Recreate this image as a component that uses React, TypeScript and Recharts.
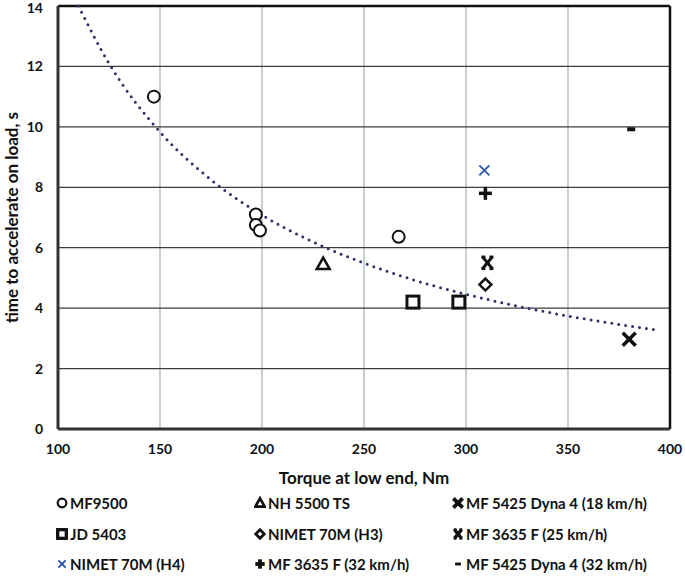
import React from "react";
import {
  CartesianGrid,
  ComposedChart,
  Legend,
  Line,
  ReferenceLine,
  Scatter,
  XAxis,
  YAxis,
} from "recharts";

type Pt = { x: number; y: number };
type Kind = "circle" | "triangle" | "cross" | "square" | "diamond" | "star" | "xblue" | "plus" | "dash";

const xTicks = [100, 150, 200, 250, 300, 350, 400];
const yTicks = [0, 2, 4, 6, 8, 10, 12, 14];

const mf9500: Pt[] = [
  { x: 147, y: 11.0 },
  { x: 197, y: 7.1 },
  { x: 197, y: 6.75 },
  { x: 199, y: 6.57 },
  { x: 267, y: 6.36 },
];
const nh5500: Pt[] = [{ x: 230, y: 5.46 }];
const mf5425_18: Pt[] = [{ x: 380, y: 2.97 }];
const jd5403: Pt[] = [
  { x: 274, y: 4.2 },
  { x: 296.5, y: 4.2 },
];
const nimetH3: Pt[] = [{ x: 309.5, y: 4.78 }];
const mf3635_25: Pt[] = [{ x: 310.5, y: 5.5 }];
const nimetH4: Pt[] = [{ x: 309, y: 8.56 }];
const mf3635_32: Pt[] = [{ x: 309.5, y: 7.8 }];
const mf5425_32: Pt[] = [{ x: 381, y: 9.92 }];

// dotted trend curve
const trend: Pt[] = [
  { x: 110, y: 14.0 },
  { x: 125, y: 12.1 },
  { x: 150, y: 9.83 },
  { x: 175, y: 8.25 },
  { x: 200, y: 7.08 },
  { x: 225, y: 6.19 },
  { x: 250, y: 5.49 },
  { x: 275, y: 4.92 },
  { x: 300, y: 4.46 },
  { x: 325, y: 4.07 },
  { x: 350, y: 3.74 },
  { x: 375, y: 3.46 },
  { x: 395, y: 3.26 },
];

const series: { name: string; kind: Kind; data: Pt[] }[] = [
  { name: "MF9500", kind: "circle", data: mf9500 },
  { name: "NH 5500 TS", kind: "triangle", data: nh5500 },
  { name: "MF 5425 Dyna 4 (18 km/h)", kind: "cross", data: mf5425_18 },
  { name: "JD 5403", kind: "square", data: jd5403 },
  { name: "NIMET 70M (H3)", kind: "diamond", data: nimetH3 },
  { name: "MF 3635 F (25 km/h)", kind: "star", data: mf3635_25 },
  { name: "NIMET 70M (H4)", kind: "xblue", data: nimetH4 },
  { name: "MF 3635 F (32 km/h)", kind: "plus", data: mf3635_32 },
  { name: "MF 5425 Dyna 4 (32 km/h)", kind: "dash", data: mf5425_32 },
];

const FONT = "Lato, 'Open Sans', sans-serif";
const INK = "#111";

const Marker = ({ kind, cx, cy, s = 1, w = 1 }: { kind: Kind; cx: number; cy: number; s?: number; w?: number }) => {
  const k = (v: number) => v * s;
  switch (kind) {
    case "circle":
      return <circle cx={cx} cy={cy} r={k(6)} fill="#fff" stroke={INK} strokeWidth={2 * w} />;
    case "triangle":
      return (
        <polygon
          points={`${cx},${cy - k(6.5)} ${cx + k(6.5)},${cy + k(5)} ${cx - k(6.5)},${cy + k(5)}`}
          fill="#fff"
          stroke={INK}
          strokeWidth={2.5 * w}
        />
      );
    case "square":
      return (
        <rect x={cx - k(6)} y={cy - k(6)} width={k(12)} height={k(12)} fill="#fff" stroke={INK} strokeWidth={3 * w} />
      );
    case "diamond":
      return (
        <polygon
          points={`${cx},${cy - k(6)} ${cx + k(6)},${cy} ${cx},${cy + k(6)} ${cx - k(6)},${cy}`}
          fill="#fff"
          stroke={INK}
          strokeWidth={2.5 * w}
        />
      );
    case "cross":
      return (
        <g stroke={INK} strokeWidth={3.5 * w}>
          <line x1={cx - k(6.5)} y1={cy - k(6.5)} x2={cx + k(6.5)} y2={cy + k(6.5)} />
          <line x1={cx - k(6.5)} y1={cy + k(6.5)} x2={cx + k(6.5)} y2={cy - k(6.5)} />
        </g>
      );
    case "star":
      return (
        <g stroke={INK}>
          <line x1={cx - k(5)} y1={cy - k(6)} x2={cx + k(5)} y2={cy + k(6)} strokeWidth={3 * w} />
          <line x1={cx - k(5)} y1={cy + k(6)} x2={cx + k(5)} y2={cy - k(6)} strokeWidth={3 * w} />
          <line x1={cx - k(6)} y1={cy - k(6)} x2={cx - k(2)} y2={cy - k(6)} strokeWidth={2.5 * w} />
          <line x1={cx + k(2)} y1={cy - k(6)} x2={cx + k(6)} y2={cy - k(6)} strokeWidth={2.5 * w} />
          <line x1={cx - k(6)} y1={cy + k(6)} x2={cx - k(2)} y2={cy + k(6)} strokeWidth={2.5 * w} />
          <line x1={cx + k(2)} y1={cy + k(6)} x2={cx + k(6)} y2={cy + k(6)} strokeWidth={2.5 * w} />
        </g>
      );
    case "xblue":
      return (
        <g stroke="#2a58a6" strokeWidth={1.8 * w}>
          <line x1={cx - k(5)} y1={cy - k(5)} x2={cx + k(5)} y2={cy + k(5)} />
          <line x1={cx - k(5)} y1={cy + k(5)} x2={cx + k(5)} y2={cy - k(5)} />
        </g>
      );
    case "plus":
      return (
        <g stroke={INK} strokeWidth={3.5 * w}>
          <line x1={cx - k(6.5)} y1={cy} x2={cx + k(6.5)} y2={cy} />
          <line x1={cx} y1={cy - k(6.5)} x2={cx} y2={cy + k(6.5)} />
        </g>
      );
    case "dash":
      return <rect x={cx - k(4)} y={cy - k(2)} width={k(8)} height={k(4)} fill={INK} />;
  }
  return null;
};

const LegendBox = () => (
  <div
    style={{
      display: "grid",
      gridTemplateColumns: "198px 198px 220px",
      paddingLeft: 56,
      paddingTop: 7,
      fontFamily: FONT,
      fontWeight: 700,
      fontSize: 15,
      color: INK,
    }}
  >
    {series.map((s) => (
      <div key={s.name} style={{ display: "flex", alignItems: "center", height: 30.5, whiteSpace: "nowrap" }}>
        <svg width={12} height={14} style={{ marginRight: 2 }}>
          <Marker kind={s.kind} cx={6} cy={7} s={0.72} w={1.1} />
        </svg>
        <span>{s.name}</span>
      </div>
    ))}
  </div>
);

const titleStyle = { fill: INK, fontFamily: FONT, fontWeight: 700, fontSize: 17 };
const tickStyle = { fill: INK, fontFamily: FONT, fontWeight: 700, fontSize: 14 };

export default function App() {
  return (
    <div style={{ position: "absolute", left: 0, top: 0, background: "#fff" }}>
      <ComposedChart
        width={685}
        height={576}
        margin={{ top: 6, right: 15, left: 0, bottom: 0 }}
      >
        <CartesianGrid horizontal={false} stroke="#a3b0b0" strokeWidth={1.2} />
        <CartesianGrid vertical={false} stroke="#3c3c3c" strokeWidth={1.2} />
        <XAxis
          type="number"
          dataKey="x"
          domain={[100, 400]}
          ticks={xTicks}
          height={52}
          tickLine={false}
          tickSize={6}
          tickMargin={9}
          axisLine={{ stroke: "#333", strokeWidth: 3 }}
          tick={tickStyle}
          label={{
            value: "Torque at low end, Nm",
            position: "insideBottom",
            offset: -3,
            style: titleStyle,
          }}
        />
        <YAxis
          type="number"
          dataKey="y"
          domain={[0, 14]}
          ticks={yTicks}
          width={58}
          tickLine={false}
          tickSize={6}
          tickMargin={9}
          axisLine={{ stroke: "#333", strokeWidth: 3 }}
          tick={tickStyle}
          label={{
            value: "time to accelerate on load, s",
            angle: -90,
            position: "insideLeft",
            offset: 12,
            style: { ...titleStyle, textAnchor: "middle" },
          }}
        />
        <ReferenceLine y={14} stroke="#111" strokeWidth={2.5} />
        <ReferenceLine x={400} stroke="#111" strokeWidth={2.5} />
        <Line
          data={trend}
          dataKey="y"
          type="monotone"
          stroke="#2d3266"
          strokeWidth={3}
          strokeDasharray="0 7"
          strokeLinecap="round"
          dot={false}
          activeDot={false}
          legendType="none"
          isAnimationActive={false}
        />
        {series.map((s) => (
          <Scatter
            key={s.name}
            name={s.name}
            data={s.data}
            dataKey="y"
            isAnimationActive={false}
            shape={(p: any) => <Marker kind={s.kind} cx={p.cx} cy={p.cy} />}
          />
        ))}
        <Legend verticalAlign="bottom" height={95} content={() => <LegendBox />} />
      </ComposedChart>
    </div>
  );
}
